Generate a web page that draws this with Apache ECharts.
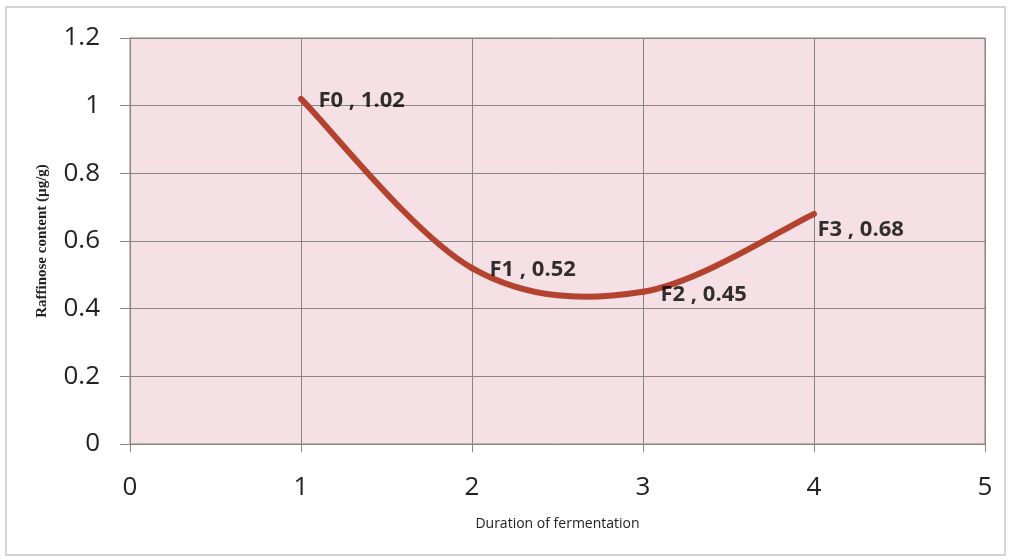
<!DOCTYPE html>
<html><head><meta charset="utf-8">
<script src="https://cdn.jsdelivr.net/npm/echarts@6/dist/echarts.min.js"></script>
<style>html,body{margin:0;padding:0;background:#fff}#c{width:1011px;height:560px}</style>
</head><body><div id="c"></div>
<script>
const xValues = [1, 2, 3, 4];
const yValues = [1.02, 0.52, 0.45, 0.68];
const pointNames = ['F0', 'F1', 'F2', 'F3'];
const xTitle = 'Duration of fermentation';
const yTitle = 'Raffinose content (µg/g)';

// label placement tweaks (pixels), per point
const labelOffsets = [[17, 2], [17, 2], [17, 3], [3, 16]];
const LINE_COLOR = '#b3432f';

const chart = echarts.init(document.getElementById('c'));
chart.setOption({
  backgroundColor: '#fff',
  graphic: [{type:'rect', shape:{x:6,y:7,width:999,height:548}, style:{fill:'none', stroke:'#c8c8c8', lineWidth:1.5}, z:-1}],
  grid: {left:130, right:26, top:38, bottom:116, show:true, backgroundColor:'#f5e0e5', borderColor:'#8a8585', borderWidth:1},
  xAxis: {
    type:'value', min:0, max:5, interval:1,
    name:xTitle, nameLocation:'middle', nameGap:73,
    nameTextStyle:{fontFamily:'Open Sans', fontSize:14, color:'#222'},
    axisLine:{show:true, onZero:false, lineStyle:{color:'#8a8585'}},
    axisTick:{show:true, length:8, lineStyle:{color:'#8a8585'}},
    axisLabel:{fontFamily:'Open Sans', fontSize:26, color:'#222', margin:31},
    splitLine:{show:true, lineStyle:{color:'#8a8585', width:1}}
  },
  yAxis: {
    type:'value', min:0, max:1.2, interval:0.2,
    name:yTitle, nameLocation:'middle', nameGap:80, nameRotate:90,
    nameTextStyle:{fontFamily:'Liberation Serif', fontWeight:'bold', fontSize:15, color:'#222'},
    axisLine:{show:true, lineStyle:{color:'#8a8585'}},
    axisTick:{show:true, length:10, lineStyle:{color:'#8a8585'}},
    axisLabel:{fontFamily:'Open Sans', fontSize:26, color:'#222', margin:30,
      formatter: v => String(Math.round(v*10)/10)},
    splitLine:{show:true, lineStyle:{color:'#8a8585', width:1}}
  },
  series: [{
    type:'custom',
    clip:true,
    data: xValues.slice(0, -1).map((x, i) => [x, yValues[i]]),
    encode:{x:0, y:1},
    renderItem: function (params, api) {
      const i = params.dataIndex;
      const P = xValues.map((x, k) => api.coord([x, yValues[k]]));
      const n = P.length;
      const p0 = P[Math.max(i - 1, 0)], p1 = P[i], p2 = P[i + 1], p3 = P[Math.min(i + 2, n - 1)];
      const c1 = [p1[0] + (p2[0] - p0[0]) / 6, p1[1] + (p2[1] - p0[1]) / 6];
      const c2 = [p2[0] - (p3[0] - p1[0]) / 6, p2[1] - (p3[1] - p1[1]) / 6];
      return {
        type:'bezierCurve',
        shape:{x1:p1[0], y1:p1[1], x2:p2[0], y2:p2[1], cpx1:c1[0], cpy1:c1[1], cpx2:c2[0], cpy2:c2[1]},
        style:{stroke:LINE_COLOR, lineWidth:6, fill:null, lineCap:'round'}
      };
    },
    z:3
  }, {
    type:'scatter',
    symbolSize:1,
    itemStyle:{color:LINE_COLOR},
    data: xValues.map((x, i) => ({
      value:[x, yValues[i]],
      name:pointNames[i],
      label:{offset:labelOffsets[i]}
    })),
    label:{show:true, position:'right', distance:0,
      fontFamily:'Open Sans', fontWeight:'bold', fontSize:22, color:'#000',
      formatter: p => p.name + ' , ' + p.value[1].toFixed(2)},
    emphasis:{disabled:true},
    z:4
  }]
});
</script></body></html>
